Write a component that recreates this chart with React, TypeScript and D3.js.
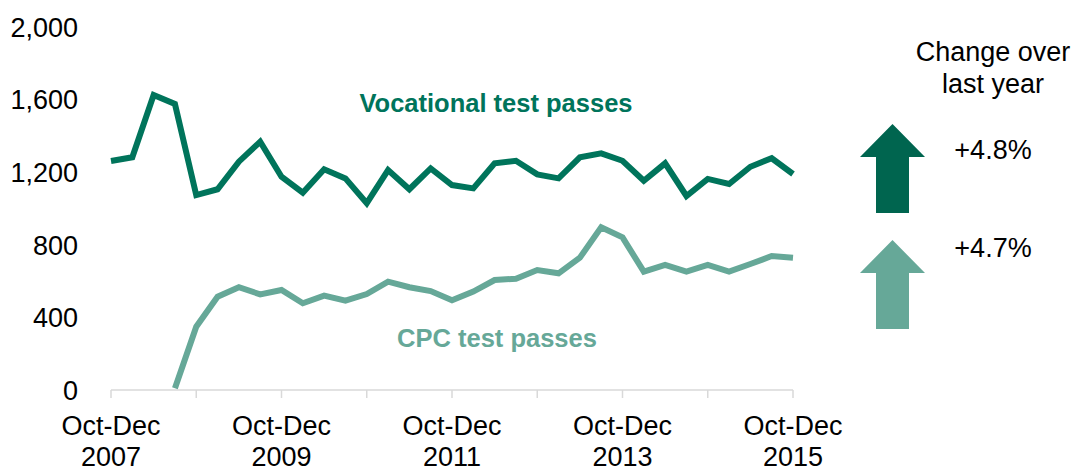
import React from "react";
import { scaleLinear, line } from "d3";

// quarters, Oct-Dec 2007 .. Oct-Dec 2015
const quarters = [
  "Oct-Dec 2007", "Jan-Mar 2008", "Apr-Jun 2008", "Jul-Sep 2008",
  "Oct-Dec 2008", "Jan-Mar 2009", "Apr-Jun 2009", "Jul-Sep 2009",
  "Oct-Dec 2009", "Jan-Mar 2010", "Apr-Jun 2010", "Jul-Sep 2010",
  "Oct-Dec 2010", "Jan-Mar 2011", "Apr-Jun 2011", "Jul-Sep 2011",
  "Oct-Dec 2011", "Jan-Mar 2012", "Apr-Jun 2012", "Jul-Sep 2012",
  "Oct-Dec 2012", "Jan-Mar 2013", "Apr-Jun 2013", "Jul-Sep 2013",
  "Oct-Dec 2013", "Jan-Mar 2014", "Apr-Jun 2014", "Jul-Sep 2014",
  "Oct-Dec 2014", "Jan-Mar 2015", "Apr-Jun 2015", "Jul-Sep 2015",
  "Oct-Dec 2015",
];

const vocational = [
  1262, 1282, 1625, 1576, 1074, 1106, 1258, 1368, 1175, 1087, 1216, 1166,
  1029, 1212, 1106, 1221, 1129, 1111, 1249, 1263, 1188, 1166, 1282, 1304,
  1263, 1153, 1249, 1069, 1163, 1135, 1230, 1277, 1190,
];

const cpc: (number | null)[] = [
  null, null, null, 10, 349, 514, 566, 527, 551, 478, 520, 492,
  529, 597, 566, 545, 494, 542, 606, 613, 661, 643, 729, 896,
  841, 652, 689, 652, 689, 652, 694, 738, 729,
];

const yTicks = [0, 400, 800, 1200, 1600, 2000];
const tickEvery = 4;
const labelEvery = 8;

const changes = ["+4.8%", "+4.7%"];

const DARK = "#00745b";
const DARK_ARROW = "#00654f";
const LIGHT = "#66a898";
const FONT = "Liberation Sans, Arial, sans-serif";

const Arrow = ({ cx, top, color }: { cx: number; top: number; color: string }) => {
  const hw = 32.5, sw = 16.5, headH = 33, total = 89;
  const d = `M${cx},${top} L${cx + hw},${top + headH} L${cx + sw},${top + headH} L${cx + sw},${top + total} L${cx - sw},${top + total} L${cx - sw},${top + headH} L${cx - hw},${top + headH} Z`;
  return <path d={d} fill={color} />;
};

export default function App() {
  const x = scaleLinear().domain([0, quarters.length - 1]).range([111, 793]);
  const y = scaleLinear().domain([0, 2000]).range([390, 27]);

  const path = line<number | null>()
    .defined((d) => d !== null)
    .x((_, i) => x(i))
    .y((d) => y(d as number));

  const ticks = quarters.map((q, i) => i).filter((i) => i % tickEvery === 0);
  const labels = quarters.map((q, i) => i).filter((i) => i % labelEvery === 0);

  return (
    <div style={{ position: "absolute", left: 0, top: 0 }}>
      <svg width={1077} height={473} style={{ display: "block", background: "#fff" }} fontFamily={FONT}>
        {/* y axis labels */}
        {yTicks.map((t) => (
          <text key={t} x={78} y={y(t)} dy="0.36em" textAnchor="end" fontSize={27} fill="#000">
            {t.toLocaleString("en-US")}
          </text>
        ))}

        {/* x axis */}
        <line x1={x(0)} x2={x(quarters.length - 1)} y1={390} y2={390} stroke="#d9d9d9" strokeWidth={1.5} />
        {ticks.map((i) => (
          <line key={i} x1={x(i)} x2={x(i)} y1={390} y2={398} stroke="#d9d9d9" strokeWidth={1.5} />
        ))}
        {labels.map((i) => {
          const [q, yr] = quarters[i].split(" ");
          return (
            <text key={i} x={x(i)} textAnchor="middle" fontSize={27} fill="#000">
              <tspan x={x(i)} y={435}>{q}</tspan>
              <tspan x={x(i)} y={466}>{yr}</tspan>
            </text>
          );
        })}

        {/* series */}
        <path d={path(vocational) || ""} fill="none" stroke={DARK} strokeWidth={6} strokeLinejoin="miter" />
        <path d={path(cpc) || ""} fill="none" stroke={LIGHT} strokeWidth={6} strokeLinejoin="miter" />

        <text x={496} y={112} textAnchor="middle" fontSize={25.5} fontWeight="bold" fill={DARK}>
          Vocational test passes
        </text>
        <text x={497} y={347} textAnchor="middle" fontSize={25.5} fontWeight="bold" fill={LIGHT}>
          CPC test passes
        </text>

        {/* change panel */}
        <text x={993} textAnchor="middle" fontSize={27} fill="#000">
          <tspan x={993} y={61}>Change over</tspan>
          <tspan x={993} y={93}>last year</tspan>
        </text>
        <Arrow cx={892.5} top={124} color={DARK_ARROW} />
        <Arrow cx={892.5} top={240} color={LIGHT} />
        <text x={993} y={159} textAnchor="middle" fontSize={27} fill="#000">{changes[0]}</text>
        <text x={993} y={257} textAnchor="middle" fontSize={27} fill="#000">{changes[1]}</text>
      </svg>
    </div>
  );
}
